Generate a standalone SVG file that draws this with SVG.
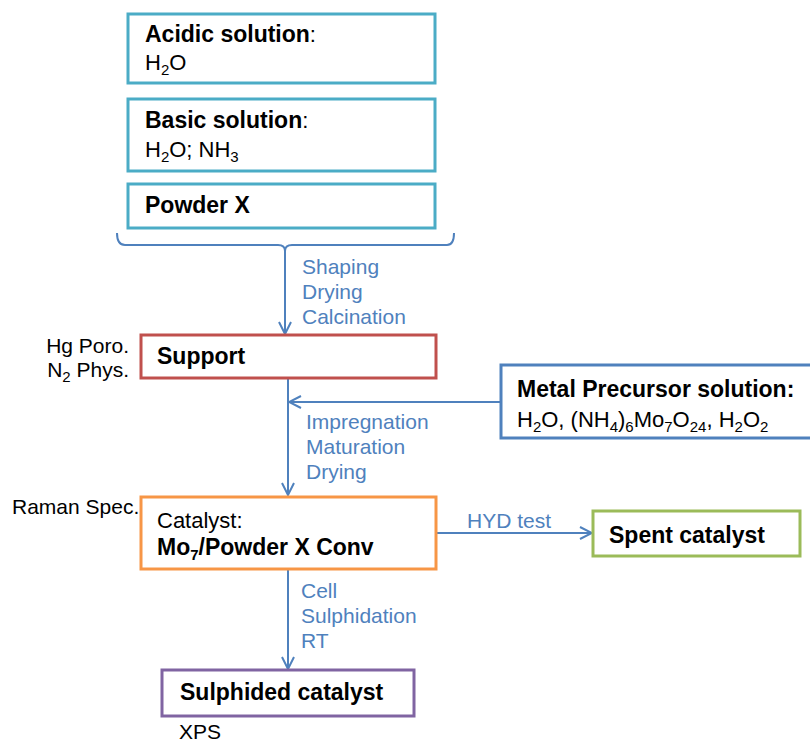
<svg xmlns="http://www.w3.org/2000/svg" width="810" height="744" viewBox="0 0 810 744">
  <style>
    .box { fill: #ffffff; stroke-width: 3; }
    .t { font-family: "Liberation Sans", Arial, sans-serif; fill: #000000; }
    .b { font-weight: bold; font-size: 23px; }
    .r { font-size: 22px; }
    .note { font-family: "Liberation Sans", Arial, sans-serif; font-size: 21px; fill: #000000; }
    .lbl { font-family: "Liberation Sans", Arial, sans-serif; font-size: 21px; fill: #4F81BD; }
    .wire { fill: none; stroke: #4F81BD; stroke-width: 2; }
    .sub { font-size: 15px; }
  </style>
  <defs>
    <marker id="arrow" viewBox="0 0 14 14" refX="13" refY="7" markerWidth="14" markerHeight="14" markerUnits="userSpaceOnUse" orient="auto">
      <path d="M1,1 L13,7 L1,13" fill="none" stroke="#4F81BD" stroke-width="2"/>
    </marker>
  </defs>

  <rect width="810" height="744" fill="#ffffff"/>

  <!-- connectors -->
  <g id="connectors">
    <path class="wire" d="M117,233 Q117,245 125,245 L278,245 Q285,245 285,251 Q285,245 292,245 L447,245 Q454,245 454,233"/>
    <line class="wire" x1="285" y1="247" x2="285" y2="334" marker-end="url(#arrow)"/>
    <line class="wire" x1="288" y1="379" x2="288" y2="495" marker-end="url(#arrow)"/>
    <line class="wire" x1="500" y1="402" x2="289" y2="402" marker-end="url(#arrow)"/>
    <line class="wire" x1="436" y1="533" x2="592" y2="533" marker-end="url(#arrow)"/>
    <line class="wire" x1="288" y1="570" x2="288" y2="669" marker-end="url(#arrow)"/>
    <text class="lbl" x="302" y="274">Shaping</text>
    <text class="lbl" x="302" y="299">Drying</text>
    <text class="lbl" x="302" y="324">Calcination</text>
    <text class="lbl" x="306" y="429">Impregnation</text>
    <text class="lbl" x="306" y="454">Maturation</text>
    <text class="lbl" x="306" y="479">Drying</text>
    <text class="lbl" x="467" y="528">HYD test</text>
    <text class="lbl" x="301" y="598">Cell</text>
    <text class="lbl" x="301" y="623">Sulphidation</text>
    <text class="lbl" x="301" y="648">RT</text>
  </g>

  <g id="acidic">
    <rect class="box" x="128" y="14" width="307" height="69" stroke="#4BACC6"/>
    <text class="t" x="145" y="42"><tspan class="b">Acidic solution</tspan><tspan class="r">:</tspan></text>
    <text class="t r" x="145" y="70">H<tspan class="sub" dy="5">2</tspan><tspan dy="-5">O</tspan></text>
  </g>

  <g id="basic">
    <rect class="box" x="128" y="99" width="307" height="72" stroke="#4BACC6"/>
    <text class="t" x="145" y="128"><tspan class="b">Basic solution</tspan><tspan class="r">:</tspan></text>
    <text class="t r" x="145" y="157">H<tspan class="sub" dy="5">2</tspan><tspan dy="-5">O; NH</tspan><tspan class="sub" dy="5">3</tspan></text>
  </g>

  <g id="powder">
    <rect class="box" x="128" y="184" width="307" height="44" stroke="#4BACC6"/>
    <text class="t b" x="145" y="213">Powder X</text>
  </g>

  <g id="support">
    <rect class="box" x="141" y="335" width="295" height="43" stroke="#C0504D"/>
    <text class="t b" x="157" y="364">Support</text>
    <text class="note" x="129" y="353" text-anchor="end">Hg Poro.</text>
    <text class="note" x="129" y="377" text-anchor="end">N<tspan class="sub" dy="5">2</tspan><tspan dy="-5"> Phys.</tspan></text>
  </g>

  <g id="metal-precursor">
    <rect class="box" x="501" y="365" width="320" height="73" stroke="#4F81BD"/>
    <text class="t b" x="517" y="397">Metal Precursor solution:</text>
    <text class="t r" x="517" y="427">H<tspan class="sub" dy="5">2</tspan><tspan dy="-5">O, (NH</tspan><tspan class="sub" dy="5">4</tspan><tspan dy="-5">)</tspan><tspan class="sub" dy="5">6</tspan><tspan dy="-5">Mo</tspan><tspan class="sub" dy="5">7</tspan><tspan dy="-5">O</tspan><tspan class="sub" dy="5">24</tspan><tspan dy="-5">, H</tspan><tspan class="sub" dy="5">2</tspan><tspan dy="-5">O</tspan><tspan class="sub" dy="5">2</tspan></text>
  </g>

  <g id="catalyst">
    <rect class="box" x="141" y="497" width="295" height="72" stroke="#F79646"/>
    <text class="t r" x="157" y="528">Catalyst:</text>
    <text class="t b" x="157" y="555">Mo<tspan class="sub" dy="5">7</tspan><tspan dy="-5">/Powder X Conv</tspan></text>
    <text class="note" x="12" y="514">Raman Spec.</text>
  </g>

  <g id="spent">
    <rect class="box" x="593" y="511" width="207" height="45" stroke="#9BBB59"/>
    <text class="t b" x="609" y="543">Spent catalyst</text>
  </g>

  <g id="sulphided">
    <rect class="box" x="162" y="670" width="252" height="46" stroke="#8064A2"/>
    <text class="t b" x="180" y="700">Sulphided catalyst</text>
    <text class="note" x="179" y="739">XPS</text>
  </g>
</svg>
